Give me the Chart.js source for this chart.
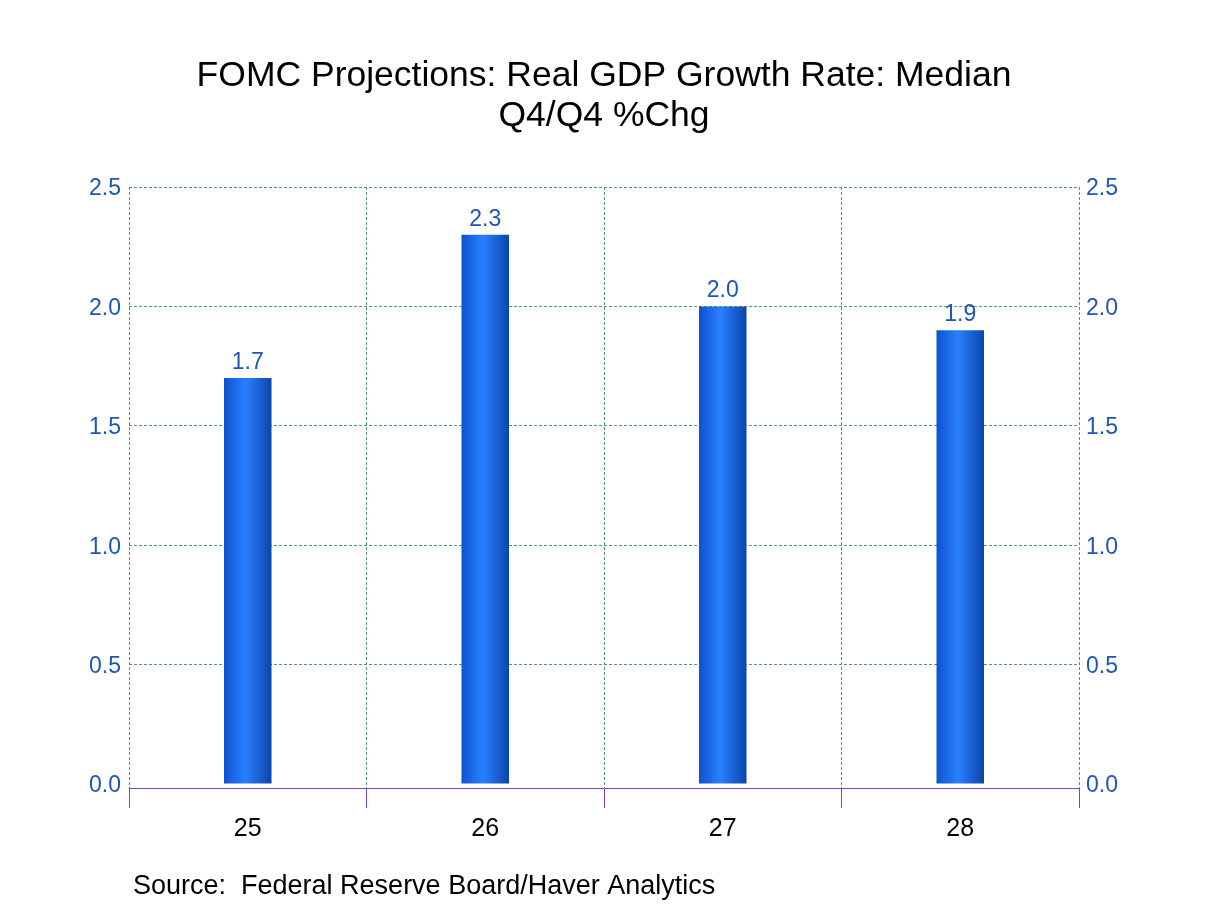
<!DOCTYPE html>
<html>
<head>
<meta charset="utf-8">
<script src="https://cdn.jsdelivr.net/npm/chart.js@4"></script>
<style>
  body { margin: 0; background: #fff; }
  #wrap { width: 1208px; height: 906px; }
</style>
</head>
<body>
<div id="wrap"><canvas id="myChart" width="1208" height="906"></canvas></div>
<script>
const years = ['25', '26', '27', '28'];
const gdpMedian = [1.7, 2.3, 2.0, 1.9];
const yTicks = [0, 0.5, 1.0, 1.5, 2.0, 2.5];

const FONT = "Arial, 'Liberation Sans', sans-serif";
const BLUE_TEXT = '#1d56b8';
const GRID_GREEN = '#4f9a74';
const AXIS_PURPLE = '#8444b4';

// value labels above bars + source line
const extras = {
    id: 'extras',
    afterDatasetsDraw(chart) {
        const ctx = chart.ctx;
        const meta = chart.getDatasetMeta(0);
        ctx.save();
        ctx.font = '23px ' + FONT;
        ctx.fillStyle = BLUE_TEXT;
        ctx.textAlign = 'center';
        ctx.textBaseline = 'bottom';
        meta.data.forEach((bar, i) => {
            ctx.fillText(gdpMedian[i].toFixed(1), bar.x, bar.y - 4);
        });
        ctx.font = '27px ' + FONT;
        ctx.fillStyle = '#000';
        ctx.textAlign = 'left';
        ctx.textBaseline = 'middle';
        ctx.fillText('Source:  Federal Reserve Board/Haver Analytics', 133, 887);
        ctx.restore();
    }
};

function barFill(c) {
    if (c.dataIndex === undefined) return '#1f6af0';
    const chart = c.chart;
    const x = chart.scales.x ? chart.scales.x.getPixelForValue(c.dataIndex) : NaN;
    if (!Number.isFinite(x)) return '#1f6af0';
    const half = 24;
    const g = chart.ctx.createLinearGradient(x - half, 0, x + half, 0);
    g.addColorStop(0, '#0c52d0');
    g.addColorStop(0.45, '#2a80ff');
    g.addColorStop(1, '#0a44ac');
    return g;
}

function keepTicks(scale) {
    scale.ticks = yTicks.map(v => ({ value: v }));
}

const ctx = document.getElementById('myChart').getContext('2d');
const myChart = new Chart(ctx, {
    type: 'bar',
    data: {
        labels: years,
        datasets: [{
            label: 'Real GDP Growth Rate: Median',
            data: gdpMedian,
            backgroundColor: barFill,
            borderWidth: 0,
            categoryPercentage: 1,
            barPercentage: 0.2
        }]
    },
    options: {
        responsive: false,
        animation: false,
        layout: { padding: { top: 0, bottom: 58, left: 0, right: 0 } },
        plugins: {
            legend: { display: false },
            tooltip: { enabled: false },
            title: {
                display: true,
                text: ['FOMC Projections: Real GDP Growth Rate: Median', 'Q4/Q4 %Chg'],
                color: '#000',
                font: { family: FONT, size: 35.5, weight: 'normal', lineHeight: 1.127 },
                padding: { top: 56, bottom: 51 }
            }
        },
        scales: {
            x: {
                grid: {
                    offset: true,
                    color: GRID_GREEN,
                    tickColor: AXIS_PURPLE,
                    tickLength: 20,
                    tickBorderDash: []
                },
                border: { display: true, color: AXIS_PURPLE, dash: [3, 2] },
                ticks: {
                    color: '#000',
                    padding: 6,
                    font: { family: FONT, size: 25 }
                },
                afterFit(scale) { scale.height = 60; }
            },
            y: {
                position: 'left',
                min: -0.0167,
                max: 2.5,
                afterBuildTicks: keepTicks,
                grid: {
                    color: c => (c.tick && c.tick.value === 0) ? 'rgba(0,0,0,0)' : GRID_GREEN,
                    drawTicks: false
                },
                border: { display: false, dash: [3, 2] },
                ticks: {
                    color: BLUE_TEXT,
                    padding: 8,
                    labelOffset: 2,
                    font: { family: FONT, size: 23 },
                    callback: v => v.toFixed(1)
                },
                afterFit(scale) { scale.width = 129; }
            },
            y2: {
                position: 'right',
                min: -0.0167,
                max: 2.5,
                afterBuildTicks: keepTicks,
                grid: { display: false, drawTicks: false },
                border: { display: false },
                ticks: {
                    color: BLUE_TEXT,
                    padding: 7,
                    labelOffset: 2,
                    font: { family: FONT, size: 23 },
                    callback: v => v.toFixed(1)
                },
                afterFit(scale) { scale.width = 129; }
            }
        }
    },
    plugins: [extras]
});
</script>
</body>
</html>
